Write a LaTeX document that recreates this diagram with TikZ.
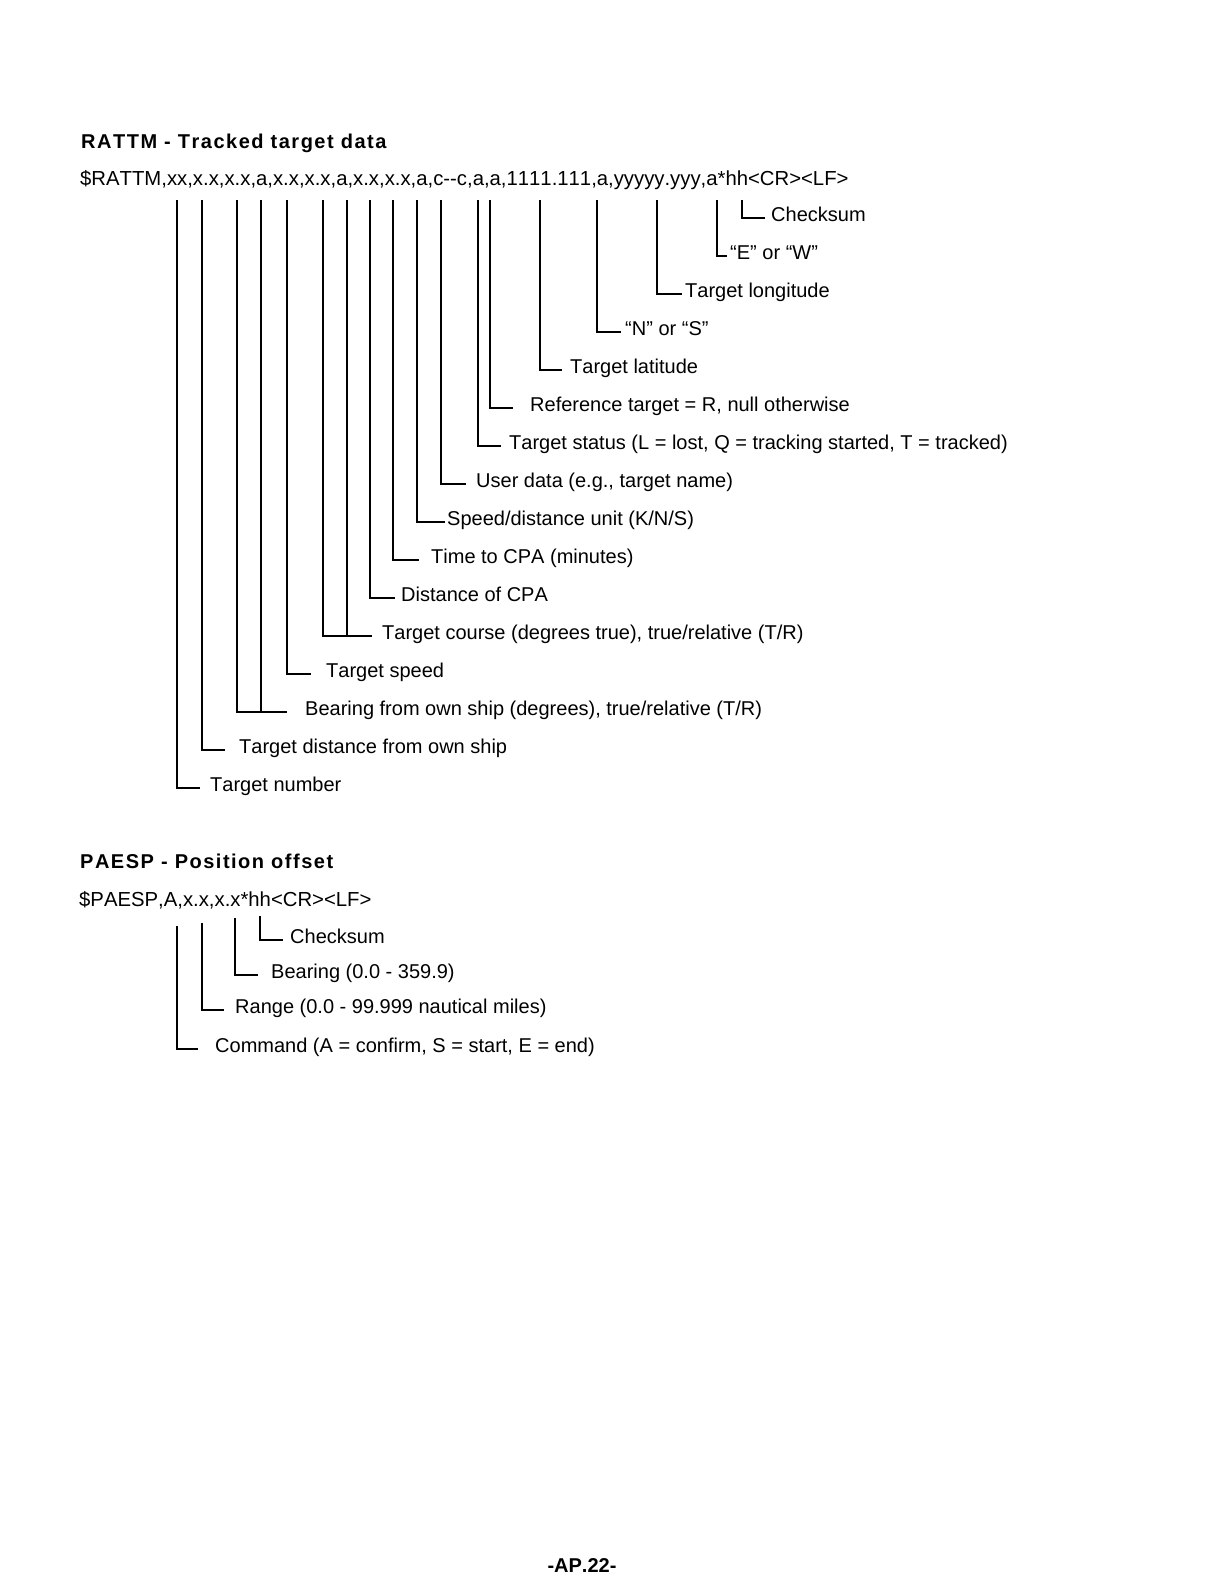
\documentclass[tikz,border=0pt]{standalone}
\usepackage{fontspec}
\setmainfont{Liberation Sans}[Kerning=Off]
\newfontfamily\headfont{Liberation Sans}[Kerning=Off,LetterSpace=7.5]

\begin{document}
\begin{tikzpicture}[x=1pt,y=-1pt]
	\tikzstyle{every node}=[inner sep=0pt,font=\fontsize{20}{24}\selectfont]
	\tikzstyle{head}=[anchor=base west,font=\headfont\bfseries\fontsize{20}{24}\selectfont]
	\tikzstyle{sentence}=[anchor=base west,font=\fontsize{20.3}{24}\selectfont]
	\tikzstyle{field}=[anchor=west,text height=10pt,text depth=4pt]
	\tikzstyle{lead}=[line width=2.6pt]
	\useasboundingbox[fill=white] (0,0) rectangle (1224,1584);

	\node[head] (rattmhead) at (81,149) {RATTM - Tracked target data};
	\node[sentence] (rattm) at (80,185) {\$RATTM,xx,x.x,x.x,a,x.x,x.x,a,x.x,x.x,a,c-{}-c,a,a,1111.111,a,yyyyy.yyy,a*hh<CR><LF>};

	\coordinate (tnum) at (177,200);
	\coordinate (tdist) at (202,200);
	\coordinate (tbrg) at (237,200);
	\coordinate (tbrgr) at (261,200);
	\coordinate (tspd) at (287,200);
	\coordinate (tcrs) at (323,200);
	\coordinate (tcrsr) at (347,200);
	\coordinate (tcpa) at (370,200);
	\coordinate (ttcpa) at (393,200);
	\coordinate (tunit) at (417,200);
	\coordinate (tuser) at (441,200);
	\coordinate (tstat) at (478,200);
	\coordinate (tref) at (490,200);
	\coordinate (tlat) at (540,200);
	\coordinate (tns) at (597,200);
	\coordinate (tlon) at (657,200);
	\coordinate (tew) at (717,200);
	\coordinate (tsum) at (742,200);

	\node[field] (lsum) at (771,218) {Checksum};
	\node[field] (lew) at (730,256) {“E” or “W”};
	\node[field] (llon) at (685,294) {Target longitude};
	\node[field] (lns) at (625,332) {“N” or “S”};
	\node[field] (llat) at (570,370) {Target latitude};
	\node[field] (lref) at (530,408) {Reference target = R, null otherwise};
	\node[field] (lstat) at (509,446) {Target status (L = lost, Q = tracking started, T = tracked)};
	\node[field] (luser) at (476,484) {User data (e.g., target name)};
	\node[field] (lunit) at (447,522) {Speed/distance unit (K/N/S)};
	\node[field] (ltcpa) at (431,560) {Time to CPA (minutes)};
	\node[field] (lcpa) at (401,598) {Distance of CPA};
	\node[field] (lcrs) at (382,636) {Target course (degrees true), true/relative (T/R)};
	\node[field] (lspd) at (326,674) {Target speed};
	\node[field] (lbrg) at (305,712) {Bearing from own ship (degrees), true/relative (T/R)};
	\node[field] (ldist) at (239,750) {Target distance from own ship};
	\node[field] (lnum) at (210,788) {Target number};

	\draw[lead] (tsum) |- ([xshift=-6pt]lsum.west);
	\draw[lead] (tew) |- ([xshift=-3pt]lew.west);
	\draw[lead] (tlon) |- ([xshift=-3pt]llon.west);
	\draw[lead] (tns) |- ([xshift=-4pt]lns.west);
	\draw[lead] (tlat) |- ([xshift=-8pt]llat.west);
	\draw[lead] (tref) |- ([xshift=-17pt]lref.west);
	\draw[lead] (tstat) |- ([xshift=-8pt]lstat.west);
	\draw[lead] (tuser) |- ([xshift=-10pt]luser.west);
	\draw[lead] (tunit) |- ([xshift=-2pt]lunit.west);
	\draw[lead] (ttcpa) |- ([xshift=-12pt]ltcpa.west);
	\draw[lead] (tcpa) |- ([xshift=-6pt]lcpa.west);
	\draw[lead] (tcrs) |- ([xshift=-10pt]lcrs.west);
	\draw[lead] (tcrsr) -- (tcrsr |- lcrs.west);
	\draw[lead] (tspd) |- ([xshift=-15pt]lspd.west);
	\draw[lead] (tbrg) |- ([xshift=-18pt]lbrg.west);
	\draw[lead] (tbrgr) -- (tbrgr |- lbrg.west);
	\draw[lead] (tdist) |- ([xshift=-14pt]ldist.west);
	\draw[lead] (tnum) |- ([xshift=-10pt]lnum.west);

	\node[head] (paesphead) at (80,868) {PAESP - Position offset};
	\node[sentence] (paesp) at (79,906) {\$PAESP,A,x.x,x.x*hh<CR><LF>};

	\coordinate (pcmd) at (177,926);
	\coordinate (prng) at (202,923);
	\coordinate (pbrg) at (235,918);
	\coordinate (psum) at (260,916);

	\node[field] (lpsum) at (290,940) {Checksum};
	\node[field] (lpbrg) at (271,975) {Bearing (0.0 - 359.9)};
	\node[field] (lprng) at (235,1010) {Range (0.0 - 99.999 nautical miles)};
	\node[field] (lpcmd) at (215,1049) {Command (A = confirm, S = start, E = end)};

	\draw[lead] (psum) |- ([xshift=-7pt]lpsum.west);
	\draw[lead] (pbrg) |- ([xshift=-13pt]lpbrg.west);
	\draw[lead] (prng) |- ([xshift=-11pt]lprng.west);
	\draw[lead] (pcmd) |- ([xshift=-17pt]lpcmd.west);

	\node[font=\bfseries\fontsize{20}{24}\selectfont] (page) at (582,1565) {-AP.22-};
\end{tikzpicture}
\end{document}
